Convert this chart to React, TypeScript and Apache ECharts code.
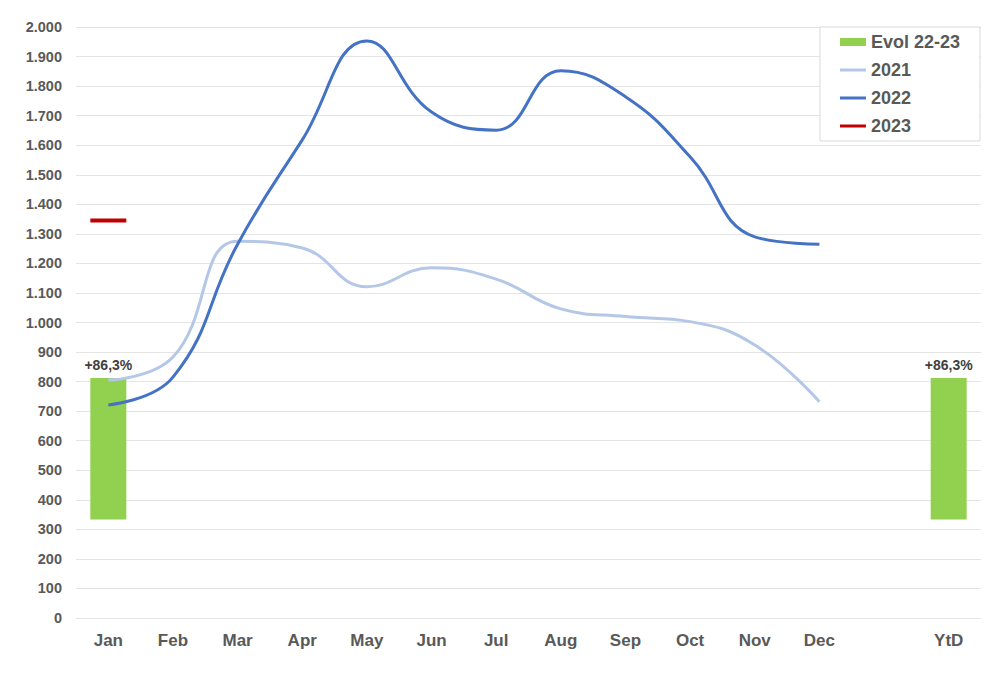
import React, { useEffect, useRef } from "react";
import * as echarts from "echarts";

const categories = ["Jan", "Feb", "Mar", "Apr", "May", "Jun", "Jul", "Aug", "Sep", "Oct", "Nov", "Dec", "", "YtD"];
const values2021 = [805, 883, 1275, 1252, 1121, 1185, 1147, 1046, 1020, 1003, 924, 732, null, null];
const values2022 = [721, 815, 1265, 1618, 1953, 1712, 1651, 1852, 1764, 1561, 1290, 1265, null, null];
const values2023 = [1345, null, null, null, null, null, null, null, null, null, null, null, null, null];
const evolBase = [333, null, null, null, null, null, null, null, null, null, null, null, null, 333];
const evolTop = [812, null, null, null, null, null, null, null, null, null, null, null, null, 812];
const evolLabel = "+86,3%";

const TEXT = "#595959";
const FONT = "Liberation Sans, Arial, sans-serif";

export default function App() {
  const ref = useRef<HTMLDivElement>(null);
  useEffect(() => {
    if (!ref.current) return;
    const chart = echarts.init(ref.current, null, { renderer: "svg" });
    const linePath = "path://M0,0H26V3H0Z";
    chart.setOption({
      animation: false,
      backgroundColor: "#ffffff",
      textStyle: { fontFamily: FONT },
      grid: { left: 76, right: 19, top: 27, bottom: 59 },
      legend: {
        orient: "vertical",
        right: 20,
        top: 27,
        backgroundColor: "#ffffff",
        borderColor: "#d9d9d9",
        borderWidth: 1,
        padding: [6, 20, 6, 20],
        itemGap: 10,
        itemWidth: 26,
        itemHeight: 8,
        symbolKeepAspect: true,
        textStyle: { color: TEXT, fontSize: 18, fontWeight: "bold", fontFamily: FONT },
        data: [
          { name: "Evol 22-23", icon: "rect" },
          { name: "2021", icon: linePath },
          { name: "2022", icon: linePath },
          { name: "2023", icon: linePath },
        ],
      },
      xAxis: {
        type: "category",
        data: categories,
        boundaryGap: true,
        axisLine: { show: false },
        axisTick: { show: false },
        axisLabel: { color: TEXT, fontSize: 17, fontWeight: "bold", margin: 14, fontFamily: FONT },
      },
      yAxis: {
        type: "value",
        min: 0,
        max: 2000,
        interval: 100,
        axisLine: { show: false },
        axisTick: { show: false },
        splitLine: { lineStyle: { color: "#e4e4e4", width: 1 } },
        axisLabel: {
          color: TEXT,
          fontSize: 14.5,
          fontWeight: "bold",
          margin: 14,
          fontFamily: FONT,
          formatter: (v: number) => (v >= 1000 ? Math.floor(v / 1000) + "." + String(v % 1000).padStart(3, "0") : String(v)),
        },
      },
      series: [
        {
          name: "Evol base",
          type: "bar",
          stack: "evol",
          barWidth: 36,
          data: evolBase,
          itemStyle: { color: "transparent" },
          emphasis: { disabled: true },
          silent: true,
        },
        {
          name: "Evol 22-23",
          type: "bar",
          stack: "evol",
          barWidth: 36,
          data: evolTop.map((v, i) => (v == null || evolBase[i] == null ? null : v - (evolBase[i] as number))),
          itemStyle: { color: "#92d050" },
          label: {
            show: true,
            position: "top",
            distance: 6,
            formatter: evolLabel,
            color: "#404040",
            fontSize: 14,
            fontWeight: "bold",
            fontFamily: FONT,
          },
        },
        {
          name: "2021",
          type: "line",
          smooth: 0.45,
          symbol: "none",
          data: values2021,
          itemStyle: { color: "#b4c7e7" },
          lineStyle: { color: "#b4c7e7", width: 3 },
        },
        {
          name: "2022",
          type: "line",
          smooth: 0.45,
          symbol: "none",
          data: values2022,
          itemStyle: { color: "#4472c4" },
          lineStyle: { color: "#4472c4", width: 3 },
        },
        {
          name: "2023",
          type: "line",
          symbol: "rect",
          symbolSize: [36, 4],
          showSymbol: true,
          data: values2023,
          itemStyle: { color: "#c00000" },
          lineStyle: { color: "#c00000", width: 3 },
        },
      ],
    });
    return () => chart.dispose();
  }, []);
  return <div ref={ref} style={{ width: 1000, height: 677, position: "absolute", left: 0, top: 0 }} />;
}
